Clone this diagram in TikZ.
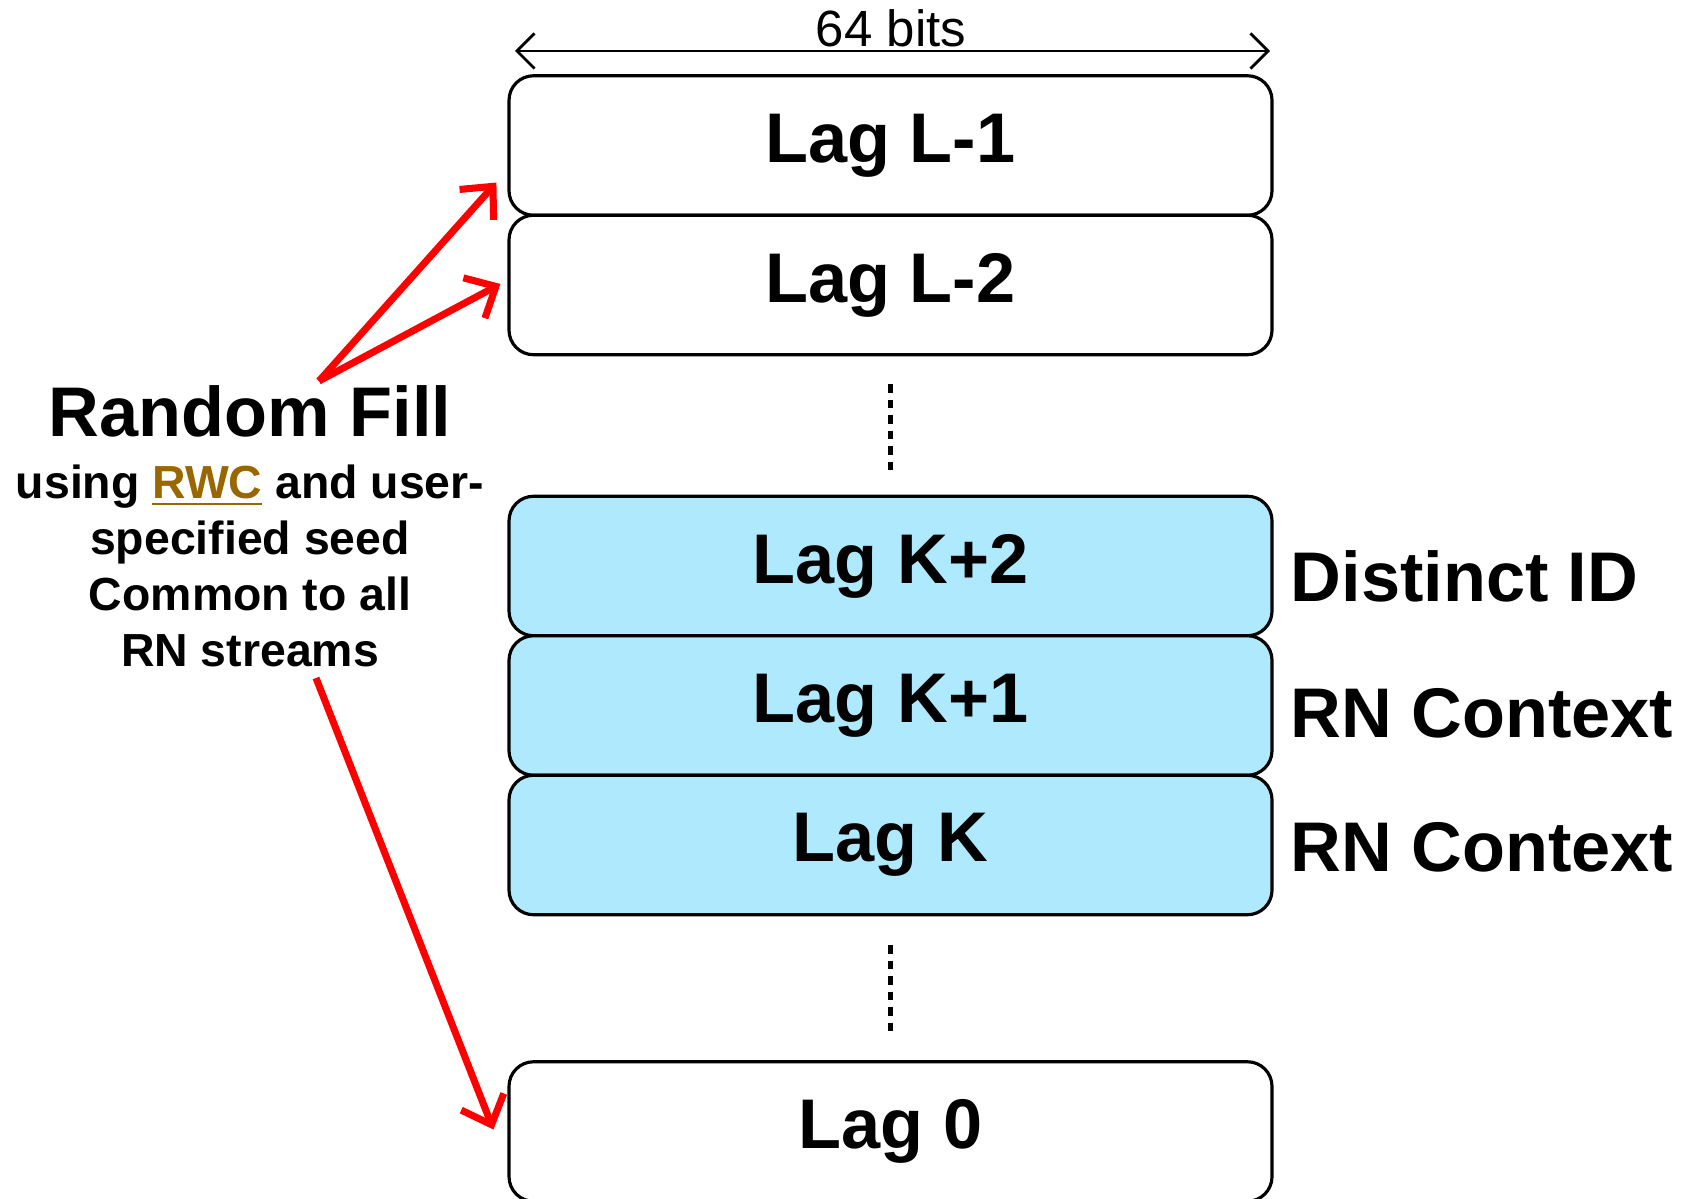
\documentclass[tikz,border=0pt]{standalone}
\usepackage{fontspec}
\setmainfont{Liberation Sans}
\definecolor{lagblue}{RGB}{175, 233, 253}
\definecolor{fillred}{RGB}{255, 0, 0}
\definecolor{rwcbrown}{RGB}{153, 102, 0}
\usetikzlibrary{arrows.meta, positioning, calc}

\begin{document}
\begin{tikzpicture}[
  lagbox/.style={draw, line width=0.9pt, rounded corners=7pt, minimum width=7.63cm, minimum height=1.395cm, inner sep=0pt, font=\fontsize{20}{24}\selectfont\bfseries},
  ctxbox/.style={lagbox, fill=lagblue},
  sidelabel/.style={anchor=base west, inner sep=0pt, font=\fontsize{20}{24}\selectfont\bfseries},
  gapdots/.style={line width=1.4pt, dash pattern=on 2.4pt off 2pt},
  fillarrow/.style={fillred, line width=2pt, -{Straight Barb[length=7pt, width=13pt]}}
]
  \useasboundingbox (0,0) rectangle (16.81,-11.99);

  % Width of a lag word
  \node[inner sep=0pt, anchor=base, font=\fontsize{14.5}{17}\selectfont] (width) at (8.91,-0.47) {64 bits};
  \coordinate (wleft) at (5.15,-0.51);
  \coordinate (wright) at (12.70,-0.51);
  \draw[line width=0.8pt, {Straight Barb[length=5pt, width=10pt]}-{Straight Barb[length=5pt, width=10pt]}] (wleft) -- (wright);

  % Lag registers
  \node[lagbox] (lagL1) at (8.905,-1.455) {Lag L-1};
  \node[lagbox] (lagL2) at (8.905,-2.85) {Lag L-2};
  \node[ctxbox] (lagK2) at (8.905,-5.66) {Lag K+2};
  \node[ctxbox] (lagK1) at (8.905,-7.055) {Lag K+1};
  \node[ctxbox] (lagK) at (8.905,-8.45) {Lag K};
  \node[lagbox] (lag0) at (8.905,-11.315) {Lag 0};

  \draw[gapdots, shorten <=0.28cm, shorten >=0.22cm] (lagL2) -- (lagK2);
  \draw[gapdots, shorten <=0.29cm, shorten >=0.25cm] (lagK) -- (lag0);

  % Context words
  \node[sidelabel] (distinct) at (12.90,-6.02) {Distinct ID};
  \node[sidelabel] (ctxA) at (12.90,-7.37) {RN Context};
  \node[sidelabel] (ctxB) at (12.90,-8.71) {RN Context};

  % Random fill
  \node[inner sep=0pt, font=\fontsize{20}{24}\selectfont\bfseries] (fill) at (2.50,-4.11) {Random Fill};
  \node[inner sep=0pt, align=center, font=\fontsize{13.2}{15.9}\selectfont\bfseries] (fillnote) at (2.50,-5.66) {
    using \textcolor{rwcbrown}{\underline{RWC}} and user-\\
    specified seed\\
    Common to all\\
    RN streams
  };

  \coordinate (fillup) at (3.19,-3.81);
  \coordinate (filldown) at (3.16,-6.78);
  \draw[fillarrow] (fillup) -- ($(lagL1.west)+(-0.11,-0.37)$);
  \draw[fillarrow] (fillup) -- ($(lagL2.west)+(-0.07,0.01)$);
  \draw[fillarrow] (filldown) -- ($(lag0.west)+(-0.14,0.02)$);
\end{tikzpicture}
\end{document}
